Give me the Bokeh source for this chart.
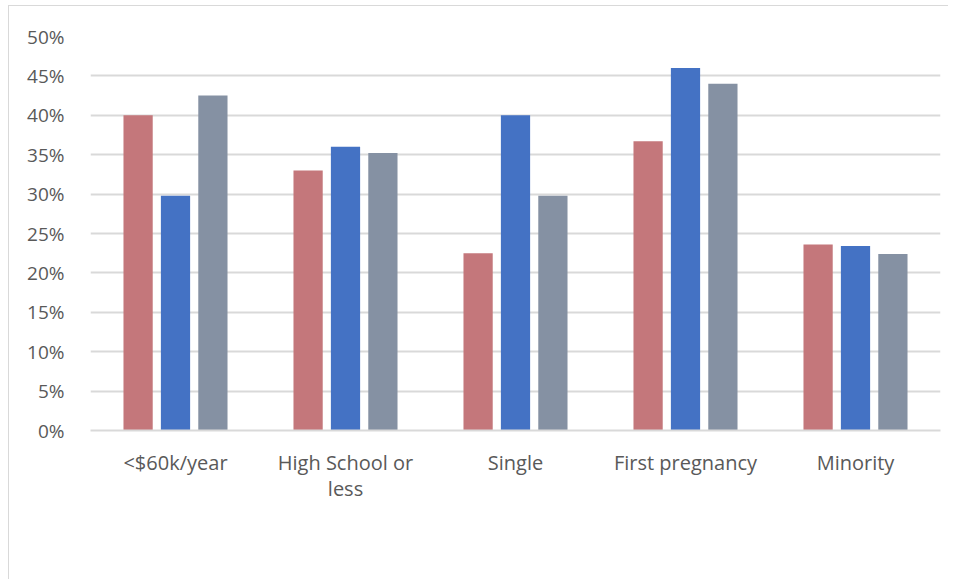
from bokeh.plotting import figure
from bokeh.models import ColumnDataSource, FactorRange, Legend, PrintfTickFormatter, FixedTicker
from bokeh.transform import dodge
from bokeh.embed import file_html
from bokeh.resources import INLINE

categories = ["<$60k/year", "High School or\nless", "Single", "First pregnancy", "Minority"]
current_study = [40.0, 33.0, 22.5, 36.7, 23.6]
alberta = [29.8, 36.0, 40.0, 46.0, 23.4]
canada = [42.5, 35.2, 29.8, 44.0, 22.4]
series_names = ["Current study", "Alberta", "Canada"]
series_colors = ["#C4777B", "#4472C4", "#8591A3"]
y_ticks = [0, 5, 10, 15, 20, 25, 30, 35, 40, 45, 50]

source = ColumnDataSource(data=dict(cat=categories, current=current_study, alberta=alberta, canada=canada))

FONT = "Open Sans"
TXT = "#595959"
GRID = "#d9d9d9"

p = figure(x_range=FactorRange(factors=categories, range_padding=0), y_range=(0, 50),
           width=939, height=567,
           frame_width=850, frame_height=394, min_border_left=81, min_border_right=8,
           min_border_top=30, min_border_bottom=20,
           output_backend="svg", toolbar_location=None)

offsets = [-0.22, 0.0, 0.22]
fields = ["current", "alberta", "canada"]
renderers = []
for f, off, c, name in zip(fields, offsets, series_colors, series_names):
    r = p.vbar(x=dodge("cat", off, range=p.x_range), top=f, width=0.172, source=source,
               fill_color=c, line_color=None)
    renderers.append((name, [r]))

p.yaxis.ticker = FixedTicker(ticks=y_ticks)
p.yaxis.formatter = PrintfTickFormatter(format="%d%%")
p.yaxis.axis_line_color = None
p.yaxis.major_tick_line_color = None
p.yaxis.minor_tick_line_color = None
p.yaxis.major_label_standoff = 20
p.yaxis.major_label_text_font = FONT
p.yaxis.major_label_text_font_size = "19px"
p.yaxis.major_label_text_color = TXT

p.xaxis.axis_line_color = GRID
p.xaxis.axis_line_width = 2
p.xaxis.major_tick_line_color = None
p.xaxis.minor_tick_line_color = None
p.xaxis.major_tick_out = 0
p.xaxis.major_tick_in = 0
p.xaxis.major_label_standoff = 18
p.xaxis.major_label_text_font = FONT
p.xaxis.major_label_text_font_size = "20px"
p.xaxis.major_label_text_color = TXT
p.xaxis.major_label_text_line_height = 0.98

p.xgrid.grid_line_color = None
p.ygrid.grid_line_color = GRID
p.ygrid.grid_line_width = 2
p.outline_line_color = None

legend = Legend(items=renderers, orientation="horizontal", location=(211, 33),
                label_text_font=FONT, label_text_font_size="20px", label_text_color=TXT,
                glyph_width=14, glyph_height=14, label_standoff=5, spacing=26,
                border_line_color=None, background_fill_alpha=0, margin=0, padding=0)
p.add_layout(legend, "below")

p.margin = (5, 0, 0, 8)
p.styles = {"border-left": "1px solid #d9d9d9", "border-top": "1px solid #d9d9d9"}

open("out.html", "w").write(file_html(p, INLINE))
